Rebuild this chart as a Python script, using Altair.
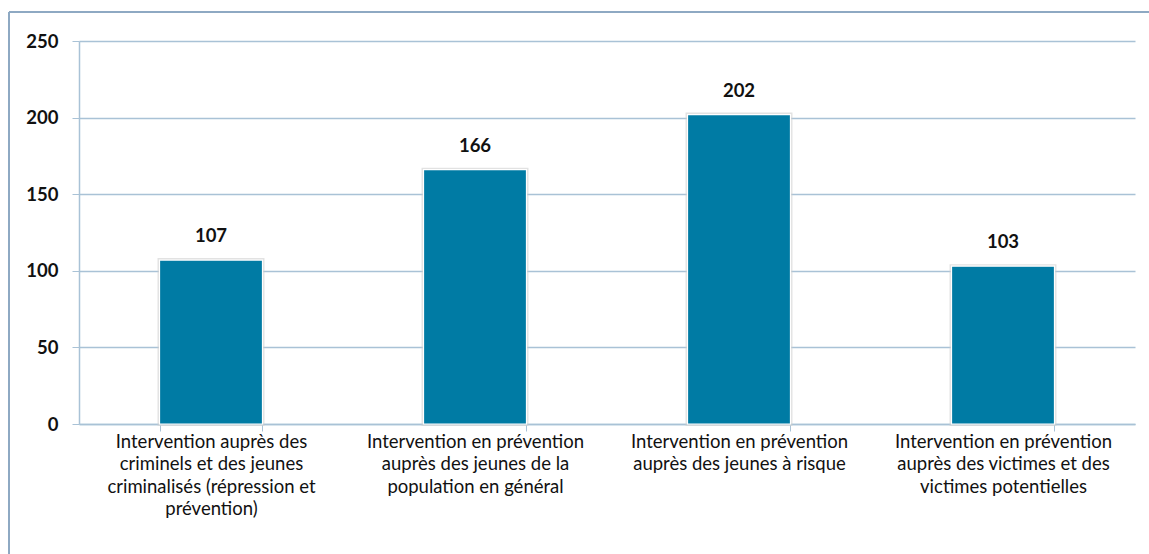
import altair as alt
import pandas as pd

categories = [
    "Intervention auprès  des\ncriminels et des jeunes\ncriminalisés (répression et\nprévention)",
    "Intervention en prévention\nauprès des jeunes de la\npopulation en général",
    "Intervention en prévention\nauprès des jeunes à risque",
    "Intervention en prévention\nauprès des victimes et des\nvictimes potentielles",
]
values = [107, 166, 202, 103]
y_ticks = [0, 50, 100, 150, 200, 250]

df = pd.DataFrame({"cat": categories, "val": values})

FONT = "Lato"
GRID = "#A9C2D6"
BAR = "#007BA4"
FS = 18.5

x_enc = alt.X(
    "cat:N",
    sort=categories,
    title=None,
    scale=alt.Scale(paddingInner=0.61, paddingOuter=0.305),
    axis=alt.Axis(
        labelAngle=0,
        labelExpr="split(datum.label, '\\n')",
        labelFont=FONT,
        labelFontSize=FS,
        labelColor="#111111",
        labelLineHeight=22.5,
        labelPadding=1,
        labelBaseline="top",
        labelLimit=300,
        tickBand="extent",
        tickSize=7,
        tickColor=GRID,
        domainColor=GRID,
        domainWidth=1.5,
        grid=False,
    ),
)
y_enc = alt.Y(
    "val:Q",
    title=None,
    scale=alt.Scale(domain=[0, 250], nice=False),
    axis=alt.Axis(
        values=y_ticks,
        labelFont=FONT,
        labelFontSize=FS,
        labelFontWeight="bold",
        labelColor="#111111",
        labelPadding=14,
        tickSize=7,
        tickColor=GRID,
        domainColor=GRID,
        domainWidth=1.5,
        gridColor=GRID,
        gridWidth=1.5,
    ),
)

shadow = alt.Chart(df).mark_bar(
    color=BAR, stroke="#CFCFCF", strokeWidth=4, strokeOpacity=0.6
).encode(x=x_enc, y=y_enc)

bars = alt.Chart(df).mark_bar(
    color=BAR, stroke="#FFFFFF", strokeWidth=1.2
).encode(x=x_enc, y=y_enc)

labels = alt.Chart(df).mark_text(
    baseline="bottom", dy=-14, font=FONT, fontSize=FS, fontWeight="bold", color="#111111"
).encode(x=alt.X("cat:N", sort=categories), y="val:Q", text="val:Q")

frame_top = alt.Chart(df).mark_rule(color="#8EA9C3", strokeWidth=2).encode(
    x=alt.value(-70), x2=alt.value(1100), y=alt.value(-29)
)
frame_left = alt.Chart(df).mark_rule(color="#8EA9C3", strokeWidth=2).encode(
    x=alt.value(-70), y=alt.value(-29), y2=alt.value(600)
)

chart = (
    alt.layer(frame_top, frame_left, shadow, bars, labels)
    .properties(
        width=1056,
        height=383,
        autosize=alt.AutoSizeParams(type="none"),
        padding={"left": 79, "top": 41, "right": 14, "bottom": 130},
        background="white",
    )
    .configure_view(stroke=None)
)

chart.save("out.html", embed_options={"renderer": "svg", "actions": False})
